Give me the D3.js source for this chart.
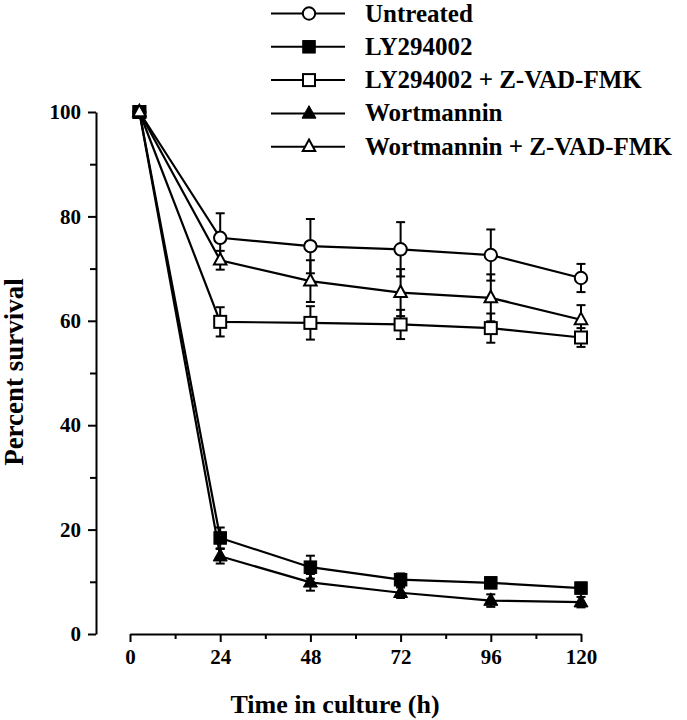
<!DOCTYPE html>
<html>
<head>
<meta charset="utf-8">
<script src="https://cdn.jsdelivr.net/npm/d3@7"></script>
<style>
  html, body { margin: 0; padding: 0; background: #fff; }
  svg { display: block; }
  text { font-family: "Liberation Serif", "Times New Roman", serif; font-weight: bold; fill: #000; }
</style>
</head>
<body>
<svg id="chart" width="687" height="720"></svg>
<script>
// ---- data ----
const times = [2.5, 24, 48, 72, 96, 120];
const xTicks = [0, 24, 48, 72, 96, 120];
const xMinorTicks = [12, 36, 60, 84, 108];
const yTicks = [0, 20, 40, 60, 80, 100];
const yMinorTicks = [10, 30, 50, 70, 90];

const seriesNames = ["Untreated", "LY294002", "LY294002 + Z-VAD-FMK", "Wortmannin", "Wortmannin + Z-VAD-FMK"];
const seriesMarkers = ["circle-open", "square-filled", "square-open", "triangle-filled", "triangle-open"];

const untreated = [100, 75.9, 74.3, 73.7, 72.6, 68.2];
const untreatedErr = [0, 4.7, 5.2, 5.2, 4.9, 2.7];
const ly294002 = [100, 18.4, 12.8, 10.4, 9.8, 8.8];
const ly294002Err = [0, 2.0, 2.2, 1.2, 1.0, 1.0];
const lyZvad = [100, 59.8, 59.6, 59.3, 58.6, 56.8];
const lyZvadErr = [0, 2.8, 3.2, 2.8, 2.8, 1.8];
const wortmannin = [100, 14.9, 9.9, 7.9, 6.4, 6.1];
const wortmanninErr = [0, 1.4, 1.6, 1.0, 1.2, 1.0];
const wortZvad = [100, 71.6, 67.6, 65.4, 64.4, 60.2];
const wortZvadErr = [0, 1.8, 4.0, 4.5, 4.5, 2.8];

const xTitle = "Time in culture (h)";
const yTitle = "Percent survival";

// ---- build ----
const values = [untreated, ly294002, lyZvad, wortmannin, wortZvad];
const errors = [untreatedErr, ly294002Err, lyZvadErr, wortmanninErr, wortZvadErr];
const series = seriesNames.map((name, i) => ({
  name, marker: seriesMarkers[i],
  points: times.map((t, j) => ({ t, v: values[i][j], e: errors[i][j] }))
}));
const drawOrder = [0, 2, 3, 1, 4];

const svg = d3.select("#chart");
const x = d3.scaleLinear().domain([0, 120]).range([130, 581]);
const y = d3.scaleLinear().domain([0, 100]).range([634, 112]);
const xAxisY = 634, yAxisX = 96;

// axes
svg.append("g").attr("transform", `translate(0,${xAxisY})`)
  .call(d3.axisBottom(x).tickValues(xTicks).tickSize(8).tickSizeOuter(0).tickPadding(7).tickFormat(d3.format("d")));
svg.append("g").attr("transform", `translate(0,${xAxisY})`)
  .call(d3.axisBottom(x).tickValues(xMinorTicks).tickSize(5).tickSizeOuter(0).tickFormat(""))
  .call(g => g.select(".domain").remove());
svg.append("g").attr("transform", `translate(${yAxisX},0)`)
  .call(d3.axisLeft(y).tickValues(yTicks).tickSize(8).tickSizeOuter(0).tickPadding(7).tickFormat(d3.format("d")));
svg.append("g").attr("transform", `translate(${yAxisX},0)`)
  .call(d3.axisLeft(y).tickValues(yMinorTicks).tickSize(6).tickSizeOuter(0).tickFormat(""))
  .call(g => g.select(".domain").remove());

svg.selectAll(".domain").attr("stroke", "#000").attr("stroke-width", 2);
svg.selectAll(".tick line").attr("stroke", "#000").attr("stroke-width", 2);
svg.selectAll(".tick text").style("font-family", '"Liberation Serif", serif').style("font-weight", "bold")
  .style("font-size", "21px").attr("fill", "#000");

// titles
svg.append("text").attr("x", 335).attr("y", 713).attr("text-anchor", "middle")
  .style("font-size", "26px").text(xTitle);
svg.append("text").attr("transform", `translate(23,372) rotate(-90)`).attr("text-anchor", "middle")
  .style("font-size", "27px").text(yTitle);

// markers
function drawMarker(g, type, cx, cy) {
  const filled = type.endsWith("filled");
  const fill = filled ? "#000" : "#fff";
  if (type.startsWith("circle")) {
    g.append("circle").attr("cx", cx).attr("cy", cy).attr("r", 6.2)
      .attr("fill", fill).attr("stroke", "#000").attr("stroke-width", 2);
  } else if (type.startsWith("square")) {
    const s = filled ? 12.5 : 12;
    g.append("rect").attr("x", cx - s / 2).attr("y", cy - s / 2).attr("width", s).attr("height", s)
      .attr("fill", fill).attr("stroke", "#000").attr("stroke-width", filled ? 1 : 2);
  } else {
    const w = filled ? 14 : 12.5, h = filled ? 12.5 : 11.5;
    const p = [[cx, cy - h * 0.62], [cx + w / 2, cy + h * 0.38], [cx - w / 2, cy + h * 0.38]];
    g.append("path").attr("d", "M" + p.map(q => q.join(",")).join("L") + "Z")
      .attr("fill", fill).attr("stroke", "#000").attr("stroke-width", filled ? 1 : 2).attr("stroke-linejoin", "miter");
  }
}

const line = d3.line().x(d => x(d.t)).y(d => y(d.v));
const plot = svg.append("g");
// lines
drawOrder.forEach(i => {
  plot.append("path").datum(series[i].points).attr("d", line)
    .attr("fill", "none").attr("stroke", "#000").attr("stroke-width", 2.2);
});
// error bars
const capW = 4.5;
drawOrder.forEach(i => {
  series[i].points.filter(p => p.e > 0).forEach(p => {
    const cx = x(p.t), y1 = y(p.v + p.e), y0 = y(p.v - p.e);
    plot.append("line").attr("x1", cx).attr("x2", cx).attr("y1", y1).attr("y2", y0)
      .attr("stroke", "#000").attr("stroke-width", 2);
    [y1, y0].forEach(yy => plot.append("line").attr("x1", cx - capW).attr("x2", cx + capW)
      .attr("y1", yy).attr("y2", yy).attr("stroke", "#000").attr("stroke-width", 2));
  });
});
// points
drawOrder.forEach(i => {
  series[i].points.forEach(p => drawMarker(plot, series[i].marker, x(p.t), y(p.v)));
});

// legend
const leg = svg.append("g");
series.forEach((s, i) => {
  const ly = 13.5 + i * 33.3;
  leg.append("line").attr("x1", 271).attr("x2", 345).attr("y1", ly).attr("y2", ly)
    .attr("stroke", "#000").attr("stroke-width", 2);
  drawMarker(leg, s.marker, 309, ly);
  leg.append("text").attr("x", 365).attr("y", ly + 8).style("font-size", "25px").text(s.name);
});
</script>
</body>
</html>
